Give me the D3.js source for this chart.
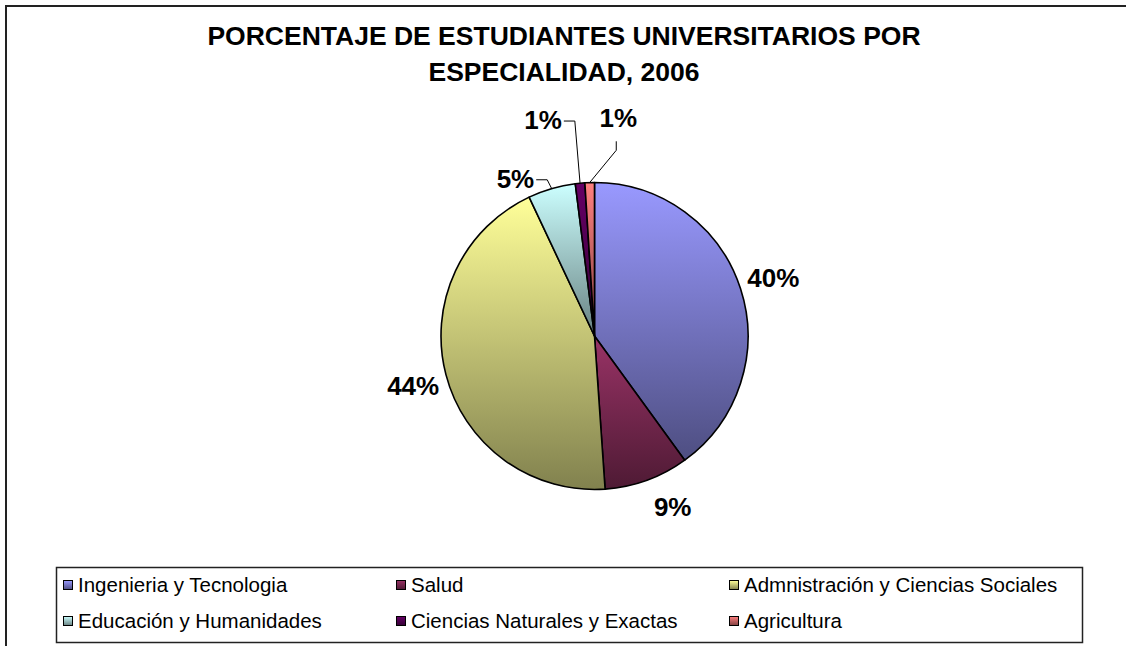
<html>

<head>
    <meta charset="utf-8">
    <style>
        body { margin: 0; background: #fff; }
    </style>
</head>

<body>
    <div id="my_dataviz"></div>
</body>

<script src="https://d3js.org/d3.v7.min.js"></script>
<script>
    // data
    var categories = ["Ingenieria y Tecnologia", "Salud", "Admnistración y Ciencias Sociales",
        "Educación y Humanidades", "Ciencias Naturales y Exactas", "Agricultura"];
    var values = [40.0, 8.9, 44.1, 5.0, 1.0, 1.0];
    var pctLabels = ["40%", "9%", "44%", "5%", "1%", "1%"];
    var colors = ["#9999FF", "#993366", "#FFFF99", "#CCFFFF", "#660066", "#FF8080"];

    // label placement tweaks (degrees / px) so labels sit like the original
    var labelShift = [0, -4.6, -0.7, -10.5, -8, 8];
    var labelExtra = [0, 0, 0, -12, 34, 32];

    var width = 1126, height = 646;
    var cx = 594.5, cy = 336, radius = 153.5;

    var svg = d3.select("#my_dataviz")
        .append("svg")
        .attr("width", width)
        .attr("height", height)
        .style("font-family", "'Liberation Sans', Arial, sans-serif");

    // gradients: each colour fading to a darker shade downwards
    var defs = svg.append("defs");
    colors.forEach(function (c, i) {
        var g = defs.append("linearGradient")
            .attr("id", "grad" + i)
            .attr("x1", 0).attr("y1", 0).attr("x2", 0).attr("y2", 1);
        g.append("stop").attr("offset", "0%").attr("stop-color", c);
        g.append("stop").attr("offset", "100%").attr("stop-color", d3.color(c).darker(1.9));
    });

    // outer chart border (runs off the right/bottom edge)
    svg.append("rect")
        .attr("x", 6).attr("y", 6)
        .attr("width", 1130).attr("height", 660)
        .attr("fill", "none")
        .attr("stroke", "#222")
        .attr("stroke-width", 2);

    // title
    var title = svg.append("text")
        .attr("text-anchor", "middle")
        .attr("font-weight", "bold")
        .attr("font-size", 26.5)
        .attr("fill", "#000");
    title.append("tspan").attr("x", 564).attr("y", 45)
        .text("PORCENTAJE DE ESTUDIANTES UNIVERSITARIOS POR");
    title.append("tspan").attr("x", 564).attr("y", 81)
        .text("ESPECIALIDAD, 2006");

    // pie
    var pie = d3.pie().sort(null).value(function (d) { return d; });
    var arcs = pie(values);
    var arc = d3.arc().innerRadius(0).outerRadius(radius);

    var g = svg.append("g").attr("transform", "translate(" + cx + "," + cy + ")");

    g.selectAll("path.slice")
        .data(arcs)
        .enter()
        .append("path")
        .attr("class", "slice")
        .attr("d", arc)
        .attr("fill", function (d, i) { return "url(#grad" + i + ")"; })
        .attr("stroke", "#000")
        .attr("stroke-width", 1.6)
        .attr("stroke-linejoin", "round");

    // labels
    arcs.forEach(function (d, i) {
        var mid = (d.startAngle + d.endAngle) / 2;
        var a = mid + labelShift[i] * Math.PI / 180;
        var r = radius + 34.5 + labelExtra[i];
        var lx = r * Math.sin(a), ly = -r * Math.cos(a);

        var t = g.append("text")
            .attr("x", lx).attr("y", ly)
            .attr("dy", "0.36em")
            .attr("text-anchor", "middle")
            .attr("font-weight", "bold")
            .attr("font-size", 26)
            .text(pctLabels[i]);

        // leader lines for the small slices
        if (values[i] < 6) {
            var halfW = t.node().getBBox().width / 2;
            var px = radius * Math.sin(mid), py = -radius * Math.cos(mid);
            var pts;
            if (lx < 0) {
                pts = [[lx + halfW + 2, ly + 1], [lx + halfW + 13, ly + 1], [px, py]];
            } else {
                pts = [[lx - 2, ly + 24], [lx - 2, ly + 33], [px, py]];
            }
            g.append("path")
                .attr("d", d3.line()(pts))
                .attr("fill", "none")
                .attr("stroke", "#000")
                .attr("stroke-width", 1);
        }
    });

    // legend
    var legend = svg.append("g");
    legend.append("rect")
        .attr("x", 56.5).attr("y", 567.5)
        .attr("width", 1026).attr("height", 75)
        .attr("fill", "#fff")
        .attr("stroke", "#222")
        .attr("stroke-width", 1.5);

    var colX = d3.scalePoint().domain([0, 1, 2]).range([63, 729]);
    var rowY = d3.scalePoint().domain([0, 1]).range([585, 621]);

    var items = legend.selectAll("g.item")
        .data(categories)
        .enter()
        .append("g")
        .attr("class", "item")
        .attr("transform", function (d, i) {
            return "translate(" + colX(i % 3) + "," + rowY(Math.floor(i / 3)) + ")";
        });

    items.append("rect")
        .attr("x", 0.5).attr("y", -4.5)
        .attr("width", 9).attr("height", 9)
        .attr("fill", function (d, i) { return "url(#grad" + i + ")"; })
        .attr("stroke", "#000")
        .attr("stroke-width", 1);

    items.append("text")
        .attr("x", 15)
        .attr("dy", "0.36em")
        .attr("font-size", 20.5)
        .attr("fill", "#000")
        .text(function (d) { return d; });
</script>

</html>
